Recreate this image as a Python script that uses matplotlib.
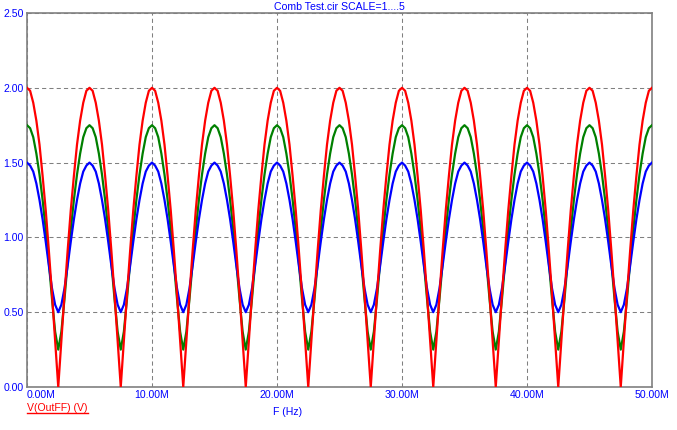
import numpy as np
import matplotlib
matplotlib.use("Agg")
import matplotlib.pyplot as plt
from matplotlib.lines import Line2D

# one period (5 MHz) of the comb response, every 0.25 MHz
period_mhz = 5.0
n_periods = 10
offset_mhz = [0.0, 0.25, 0.5, 0.75, 1.0, 1.25, 1.5, 1.75, 2.0, 2.25, 2.5,
              2.75, 3.0, 3.25, 3.5, 3.75, 4.0, 4.25, 4.5, 4.75, 5.0]
red_v = [2.00, 1.98, 1.90, 1.78, 1.62, 1.41, 1.18, 0.91, 0.62, 0.31, 0.00,
         0.31, 0.62, 0.91, 1.18, 1.41, 1.62, 1.78, 1.90, 1.98, 2.00]
green_v = [1.75, 1.73, 1.67, 1.56, 1.42, 1.25, 1.05, 0.83, 0.59, 0.37, 0.25,
           0.37, 0.59, 0.83, 1.05, 1.25, 1.42, 1.56, 1.67, 1.73, 1.75]
blue_v = [1.50, 1.48, 1.44, 1.36, 1.25, 1.12, 0.97, 0.81, 0.66, 0.55, 0.50,
          0.55, 0.66, 0.81, 0.97, 1.12, 1.25, 1.36, 1.44, 1.48, 1.50]

xticks = [0, 10, 20, 30, 40, 50]
xlabels = ["0.00M", "10.00M", "20.00M", "30.00M", "40.00M", "50.00M"]
yticks = [0.0, 0.5, 1.0, 1.5, 2.0, 2.5]
ylabels = ["0.00", "0.50", "1.00", "1.50", "2.00", "2.50"]


def repeat_period(vals):
    v = list(vals[:-1]) * n_periods + [vals[-1]]
    return np.array(v)


f = np.concatenate([np.array(offset_mhz[:-1]) + k * period_mhz
                    for k in range(n_periods)] + [[n_periods * period_mhz]])

plt.rcParams['font.family'] = ['Liberation Sans', 'DejaVu Sans']
blue_txt = "#0000ff"
fs = 7.6

fig = plt.figure(figsize=(6.77, 4.30), dpi=100)
ax = fig.add_axes([27 / 677, 43 / 430, 625 / 677, 374 / 430])

ax.plot(f, repeat_period(green_v), color="#008000", lw=1.6, zorder=3)
ax.plot(f, repeat_period(blue_v), color="#0000ff", lw=1.6, zorder=4)
ax.plot(f, repeat_period(red_v), color="#ff0000", lw=1.6, zorder=5)

ax.set_xlim(0, 50)
ax.set_ylim(0, 2.5)
ax.set_xticks(xticks)
ax.set_xticklabels(xlabels)
ax.set_yticks(yticks)
ax.set_yticklabels(ylabels)
ax.tick_params(length=0, labelsize=fs, labelcolor=blue_txt)
ax.tick_params(axis="x", pad=2.5)
ax.tick_params(axis="y", pad=2.5)
ax.get_xticklabels()[0].set_horizontalalignment("left")

ax.grid(True, color="#808080", ls=(0, (4, 3)), lw=0.75)
for s in ax.spines.values():
    s.set_color("#808080")
    s.set_linewidth(1.2)

fig.text(339.5 / 677, 1 - 7 / 430, "Comb Test.cir SCALE=1....5", color=blue_txt,
         fontsize=fs, ha="center", va="center")
fig.text(288 / 677, 1 - 412 / 430, "F (Hz)", color=blue_txt, fontsize=fs,
         ha="center", va="center")
leg = fig.text(27 / 677, 1 - 408 / 430, "V(OutFF) (V)", color="#ff0000",
               fontsize=fs, ha="left", va="center")

# underline the trace label
fig.canvas.draw()
bb = leg.get_window_extent().transformed(fig.transFigure.inverted())
uy = 1 - 413 / 430
fig.add_artist(Line2D([bb.x0, bb.x1], [uy, uy], transform=fig.transFigure,
                      color="#ff0000", lw=1))

fig.savefig("out.png", dpi=100)
